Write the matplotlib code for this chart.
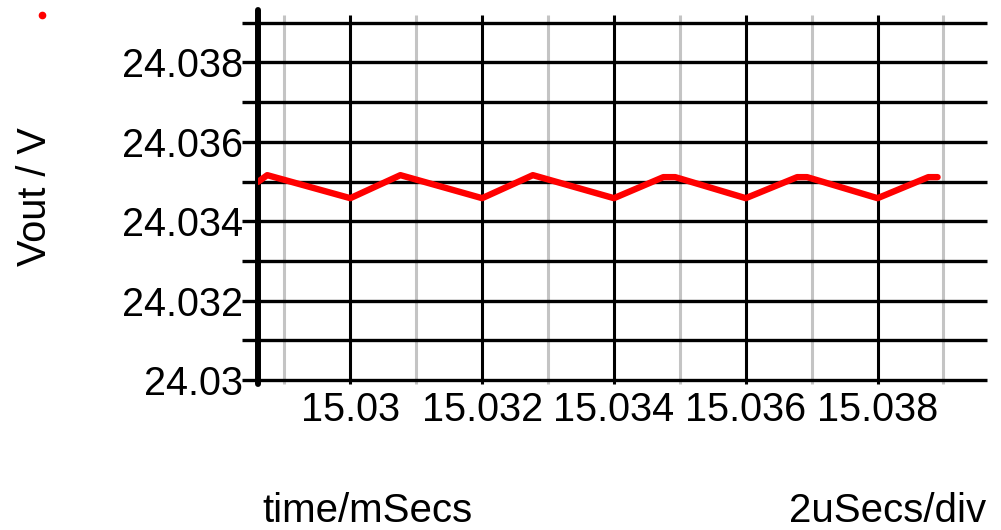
# -*- coding: utf-8 -*-
"""
Output voltage ripple, 2 us per division
"""

import matplotlib
matplotlib.use("Agg")
import matplotlib.pyplot as plt
from matplotlib.lines import Line2D

# données
t_ms = [15.02860, 15.02874, 15.03000, 15.03076, 15.03200, 15.03277,
        15.03400, 15.03475, 15.03493, 15.03600, 15.03678, 15.03693,
        15.03800, 15.03877, 15.03891]
vout = [24.03499, 24.03516, 24.03458, 24.03516, 24.03458, 24.03516,
        24.03458, 24.03511, 24.03511, 24.03458, 24.03511, 24.03511,
        24.03458, 24.03511, 24.03511]

x_major = [15.030, 15.032, 15.034, 15.036, 15.038]
x_minor = [15.029, 15.031, 15.033, 15.035, 15.037, 15.039]
x_labels = ["15.03", "15.032", "15.034", "15.036", "15.038"]
y_lines = [24.030, 24.031, 24.032, 24.033, 24.034, 24.035,
           24.036, 24.037, 24.038, 24.039]
y_ticks = [24.030, 24.032, 24.034, 24.036, 24.038]
y_labels = ["24.03", "24.032", "24.034", "24.036", "24.038"]

W, H = 1001, 530
FONT = "Liberation Sans"


def main():
    fig = plt.figure(figsize=(W / 100, H / 100), dpi=100)
    ax = fig.add_axes([258 / W, 150 / H, 729 / W, 370 / H])
    x0, x1 = 15.0286, 15.03966
    y0, y1 = 24.030, 24.03932
    ax.set_xlim(x0, x1)
    ax.set_ylim(y0, y1)
    for s in ax.spines.values():
        s.set_visible(False)

    # grille : les traits dépassent un peu du cadre (graduations)
    px_x = 0.001 / 65.9
    px_y = 0.001 / 39.7
    ax.vlines(x_minor, y0 - 4 * px_y, y1 - 5 * px_y, color="#c4c4c4",
              lw=2.2, clip_on=False, zorder=1)
    ax.vlines(x_major, y0 - 4 * px_y, y1 - 5 * px_y, color="black",
              lw=2.2, clip_on=False, zorder=2)
    ax.hlines(y_lines, x0 - 16 * px_x, x1, color="black", lw=2.4,
              clip_on=False, zorder=2)
    ax.plot([x0, x0], [y0 - 4 * px_y, y1], color="black", lw=4.3,
            solid_capstyle="round", clip_on=False, zorder=3)

    ax.plot(t_ms, vout, color="#ff0000", lw=4.6, solid_capstyle="round",
            solid_joinstyle="round", zorder=4)

    ax.set_xticks(x_major, x_labels)
    ax.set_yticks(y_ticks, y_labels)
    ax.tick_params(length=0, labelsize=28.5)
    ax.tick_params(axis="y", pad=10.5)
    ax.tick_params(axis="x", pad=8)
    for lab in ax.get_xticklabels() + ax.get_yticklabels():
        lab.set_fontfamily(FONT)

    fig.text(35 / W, 1 - 197 / H, "Vout / V", rotation=90, ha="center",
             va="center", fontsize=28.5, family=FONT)
    fig.text(262 / W, 8 / H, "time/mSecs", ha="left", va="baseline",
             fontsize=29, family=FONT)
    fig.text(789 / W, 8 / H, "2uSecs/div", ha="left", va="baseline",
             fontsize=29, family=FONT)

    # repère de la trace
    fig.add_artist(Line2D([42 / W], [1 - 15 / H], marker="o", color="#ff0000",
                          markersize=4.5, transform=fig.transFigure))

    fig.savefig("out.png", dpi=100)


if __name__ == "__main__":
    main()
